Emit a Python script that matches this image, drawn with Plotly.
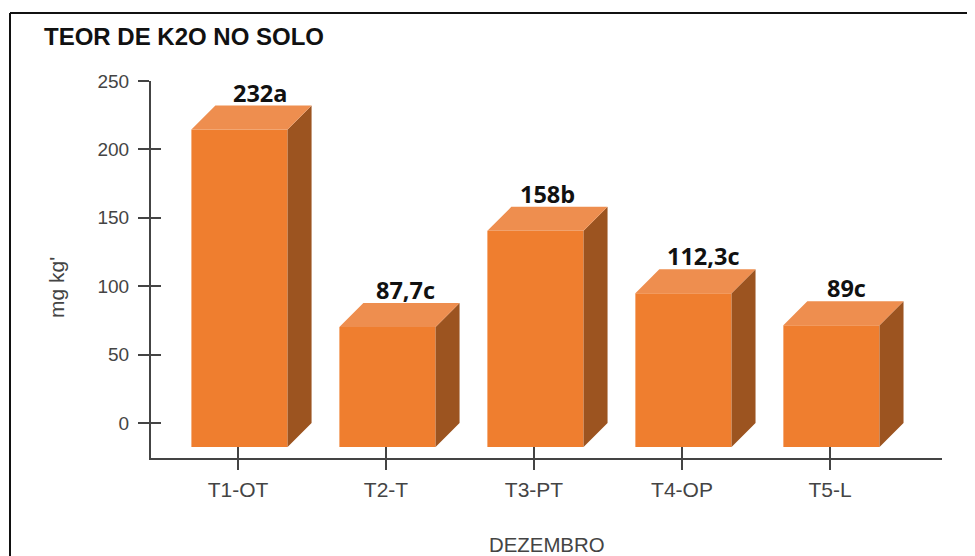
"""
Teor de K2O no solo: 3D-looking bar chart built from a bar trace and filled faces.
"""

import plotly.graph_objects as go

categories = ["T1-OT", "T2-T", "T3-PT", "T4-OP", "T5-L"]
values = [232, 87.7, 158, 112.3, 89]
value_labels = ["232a", "87,7c", "158b", "112,3c", "89c"]
y_ticks = [0, 50, 100, 150, 200, 250]

# label nudges to the right of each tick, in pixels
label_nudge = [22, 19, 14, 22, 17]

FRONT = "#EF7E2F"
TOP = "#EE8E4F"
SIDE = "#9C5420"
AXIS = "#444444"
TEXT = "#444444"

BAR_WIDTH = 0.65
DEPTH_X = 0.162
DEPTH_Y = 17.5
BAR_SHIFT = 0.01

# the page body adds 8px on the left and top, so the figure is 8px smaller
BODY = 8
FIG_W, FIG_H = 975 - BODY, 556 - BODY
PLOT_L, PLOT_R, PLOT_T, PLOT_B = 151 - BODY, 942 - BODY, 81 - BODY, 458 - BODY

positions = list(range(len(categories)))
x_range = [-0.588, 4.757]
y_range = [-25.6, 250]

top_x, top_y, side_x, side_y = [], [], [], []
for pos, val in zip(positions, values):
    left = pos + BAR_SHIFT - BAR_WIDTH / 2
    right = pos + BAR_SHIFT + BAR_WIDTH / 2
    front_top = val - DEPTH_Y
    top_x += [left, right, right + DEPTH_X, left + DEPTH_X, left, None]
    top_y += [front_top, front_top, val, val, front_top, None]
    side_x += [right, right + DEPTH_X, right + DEPTH_X, right, right, None]
    side_y += [-DEPTH_Y, 0, val, front_top, -DEPTH_Y, None]

fig = go.Figure()

fig.add_trace(go.Scatter(
    x=side_x, y=side_y, mode="lines", fill="toself", fillcolor=SIDE,
    line=dict(width=0), hoverinfo="skip", showlegend=False
))
fig.add_trace(go.Scatter(
    x=top_x, y=top_y, mode="lines", fill="toself", fillcolor=TOP,
    line=dict(width=0), hoverinfo="skip", showlegend=False
))
fig.add_trace(go.Bar(
    x=[p + BAR_SHIFT for p in positions],
    y=values,
    base=-DEPTH_Y,
    width=BAR_WIDTH,
    marker=dict(color=FRONT, line=dict(width=0)),
    showlegend=False
))
# invisible trace so the overlay axes (upper half of the crossing ticks) get drawn
fig.add_trace(go.Scatter(
    x=positions, y=values, mode="lines", line=dict(width=0),
    xaxis="x2", yaxis="y2", hoverinfo="skip", showlegend=False
))

for pos, label, nudge, val in zip(positions, value_labels, label_nudge, values):
    fig.add_annotation(
        x=pos, y=val, text=f"<b>{label}</b>", showarrow=False,
        xanchor="center", yanchor="bottom", xshift=nudge, yshift=-5,
        font=dict(family="Open Sans", size=23.5, color="#111111")
    )

plot_w = PLOT_R - PLOT_L
plot_h = PLOT_B - PLOT_T


def paper_x(px):
    return (px - BODY - PLOT_L) / plot_w


def paper_y(px):
    return (PLOT_B - (px - BODY)) / plot_h


fig.add_annotation(
    xref="paper", yref="paper", x=paper_x(56), y=paper_y(288),
    xanchor="center", yanchor="middle",
    text="mg kg'", textangle=-90, showarrow=False,
    font=dict(family="Liberation Sans", size=21, color=TEXT)
)
fig.add_annotation(
    xref="paper", yref="paper", x=paper_x(547), y=paper_y(545),
    xanchor="center", yanchor="middle",
    text="DEZEMBRO", showarrow=False,
    font=dict(family="Liberation Sans", size=20.4, color=TEXT)
)

# frame of the original image: left and top edges only
frame = dict(color="#111111", width=2)
fig.add_shape(type="line", xref="paper", yref="paper", line=frame,
              x0=paper_x(10), x1=paper_x(10), y0=paper_y(13), y1=paper_y(556))
fig.add_shape(type="line", xref="paper", yref="paper", line=frame,
              x0=paper_x(10), x1=paper_x(975), y0=paper_y(13), y1=paper_y(13))

fig.update_layout(
    width=FIG_W,
    height=FIG_H,
    autosize=False,
    margin=dict(l=PLOT_L, r=FIG_W - PLOT_R, t=PLOT_T, b=FIG_H - PLOT_B),
    paper_bgcolor="white",
    plot_bgcolor="white",
    title=dict(
        text="<b>TEOR DE K2O NO SOLO</b>",
        x=(44 - BODY) / FIG_W, xanchor="left",
        y=1 - (37 - BODY) / FIG_H, yanchor="middle",
        font=dict(family="Liberation Sans", size=24, color="#111111")
    ),
    xaxis=dict(
        range=x_range, tickmode="array", tickvals=positions, ticktext=categories,
        ticks="outside", ticklen=10, tickwidth=2, tickcolor=AXIS,
        showgrid=False, zeroline=False, showline=True, linecolor=AXIS, linewidth=2,
        ticklabelstandoff=2,
        tickfont=dict(family="Liberation Sans", size=21, color=TEXT)
    ),
    yaxis=dict(
        range=y_range, tickmode="array", tickvals=y_ticks,
        ticks="outside", ticklen=11, tickwidth=2, tickcolor=AXIS,
        showgrid=False, zeroline=False, showline=True, linecolor=AXIS, linewidth=2,
        ticklabelstandoff=5,
        tickfont=dict(family="Liberation Sans", size=19, color=TEXT)
    ),
    xaxis2=dict(
        range=x_range, overlaying="x", side="bottom", tickmode="array", tickvals=positions,
        showticklabels=False, ticks="inside", ticklen=11, tickwidth=2, tickcolor=AXIS,
        showgrid=False, zeroline=False
    ),
    yaxis2=dict(
        range=y_range, overlaying="y", side="left", tickmode="array", tickvals=y_ticks,
        showticklabels=False, ticks="inside", ticklen=10, tickwidth=2, tickcolor=AXIS,
        showgrid=False, zeroline=False
    ),
)

fig.write_html("out.html")
